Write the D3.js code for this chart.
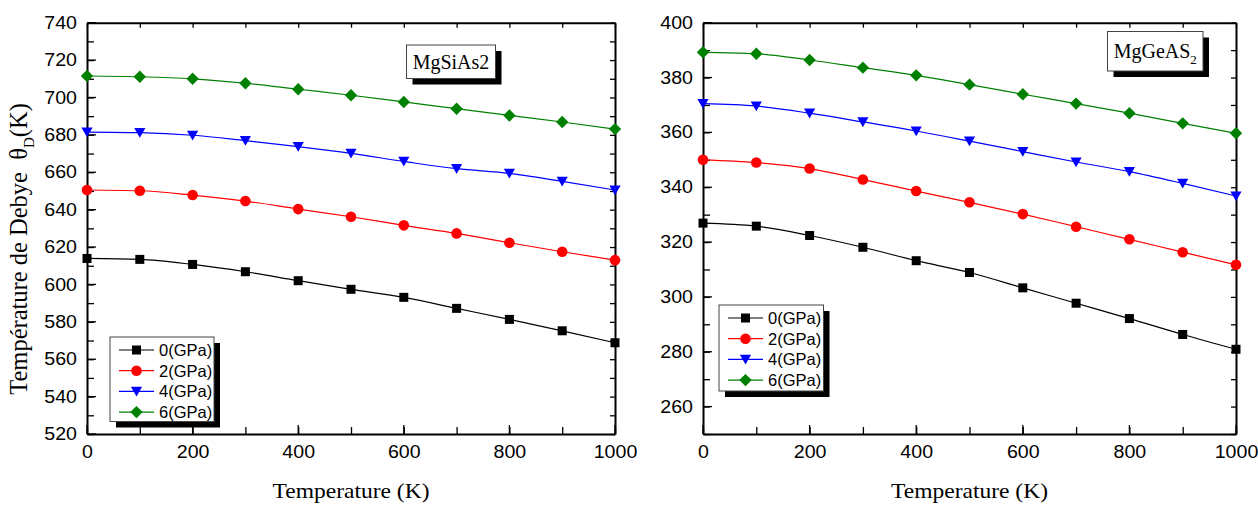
<!DOCTYPE html>
<html><head><meta charset="utf-8">
<script src="https://cdn.jsdelivr.net/npm/d3@7"></script>
<style>body{margin:0;background:#fff}svg{display:block}</style>
</head><body>
<svg id="c" width="1258" height="505"></svg>
<script>
const temps = [0,100,200,300,400,500,600,700,800,900,1000];
const seriesNames = ["0(GPa)","2(GPa)","4(GPa)","6(GPa)"];
const seriesColors = ["#000000","#ff0000","#0000ff","#008000"];
// MgSiAs2
const si_p0 = [613.9,613.4,610.7,606.8,602.0,597.4,593.1,587.2,581.3,575.2,568.8];
const si_p2 = [650.5,650.1,647.8,644.6,640.3,636.2,631.6,627.3,622.3,617.5,613.0];
const si_p4 = [681.5,681.2,679.8,676.9,673.7,670.1,665.8,661.9,659.4,655.1,650.5];
const si_p6 = [711.5,711.1,710.0,707.6,704.4,701.2,697.6,694.0,690.4,686.9,683.1];
// MgGeAS2
const ge_p0 = [326.9,325.8,322.4,318.1,313.2,308.9,303.3,297.7,292.1,286.3,280.9];
const ge_p2 = [350.0,349.0,346.8,342.8,338.6,334.5,330.2,325.6,321.0,316.3,311.7];
const ge_p4 = [370.5,369.6,367.0,363.8,360.5,356.8,353.0,349.2,345.7,341.4,336.8];
const ge_p6 = [389.2,388.7,386.4,383.6,380.8,377.4,373.9,370.5,367.0,363.3,359.7];
const xTicks = [0,200,400,600,800,1000];
const siTicks = [520,540,560,580,600,620,640,660,680,700,720,740];
const geTicks = [260,280,300,320,340,360,380,400];

const svg = d3.select("#c");
const markerTypes = ["square","circle","tri","diamond"];
function marker(g, type, x, y, color){
  if(type==="square") g.append("rect").attr("x",x-4.5).attr("y",y-4.5).attr("width",9).attr("height",9).attr("fill",color);
  else if(type==="circle") g.append("circle").attr("cx",x).attr("cy",y).attr("r",5.3).attr("fill",color);
  else if(type==="tri") g.append("path").attr("d",`M${x-5.6},${y-4.6}L${x+5.6},${y-4.6}L${x},${y+5.2}Z`).attr("fill",color);
  else g.append("path").attr("d",`M${x},${y-6.2}L${x+6.2},${y}L${x},${y+6.2}L${x-6.2},${y}Z`).attr("fill",color);
}
const serif = "'Liberation Serif', 'Times New Roman', serif";

function panel(opt){
  const {x0,x1,y0,y1,domain,ticks,minorStep,data,label,sub,labelBox,legend} = opt;
  const g = svg.append("g");
  const x = d3.scaleLinear().domain([0,1000]).range([x0,x1]);
  const y = d3.scaleLinear().domain(domain).range([y1,y0]);
  const minorX = d3.range(0,1001,100);
  const minorY = d3.range(domain[0],domain[1]+0.001,minorStep);
  const tickFont = "17.5px 'Liberation Sans', Arial, sans-serif";
  const ax = (gen, tr) => {
    const a = g.append("g").attr("transform",tr).call(gen);
    a.select(".domain").attr("stroke","#000").attr("stroke-width",2);
    a.selectAll("line").attr("stroke","#000").attr("stroke-width",1.3);
    a.selectAll("text").style("font",tickFont).attr("fill","#000")
      .attr("textLength",function(){const n=this.textContent.length; return n?n*10.9:null;})
      .attr("lengthAdjust","spacingAndGlyphs");
    return a;
  };
  ax(d3.axisBottom(x).tickValues(minorX).tickSize(-7).tickSizeOuter(0).tickPadding(12).tickFormat(d=>xTicks.includes(d)?d:""), `translate(0,${y1})`);
  g.append("g").attr("transform",`translate(0,${y1})`).selectAll("line").data(xTicks).join("line")
    .attr("x1",d=>x(d)).attr("x2",d=>x(d)).attr("y1",0).attr("y2",-9).attr("stroke","#000").attr("stroke-width",1.3);
  ax(d3.axisTop(x).tickValues(minorX).tickSize(-5).tickSizeOuter(0).tickFormat(""), `translate(0,${y0})`);
  ax(d3.axisLeft(y).tickValues(minorY).tickSize(-7).tickSizeOuter(0).tickPadding(10).tickFormat(d=>ticks.includes(d)?d:""), `translate(${x0},0)`);
  g.append("g").attr("transform",`translate(${x0},0)`).selectAll("line").data(ticks).join("line")
    .attr("x1",0).attr("x2",9).attr("y1",d=>y(d)).attr("y2",d=>y(d)).attr("stroke","#000").attr("stroke-width",1.3);
  ax(d3.axisRight(y).tickValues(minorY).tickSize(-5).tickSizeOuter(0).tickFormat(""), `translate(${x1},0)`);
  // series
  const line = d3.line().x((d,i)=>x(temps[i])).y(d=>y(d)).curve(d3.curveMonotoneX);
  data.forEach((s,k)=>{
    g.append("path").attr("d",line(s)).attr("fill","none").attr("stroke",seriesColors[k]).attr("stroke-width",1.2);
    s.forEach((v,i)=>marker(g, markerTypes[k], x(temps[i]), y(v), seriesColors[k]));
  });
  // label box
  const [bx,by,bw,bh] = labelBox;
  g.append("rect").attr("x",bx+6).attr("y",by+6).attr("width",bw).attr("height",bh).attr("fill","#000");
  g.append("rect").attr("x",bx).attr("y",by).attr("width",bw).attr("height",bh).attr("fill","#fff").attr("stroke","#444").attr("stroke-width",1);
  const t = g.append("text").attr("x",bx+bw/2).attr("y",by+bh/2+7).attr("text-anchor","middle")
    .style("font","20px " + serif).attr("fill","#000").text(label);
  if(sub) t.append("tspan").attr("dy",6).style("font-size","13px").text(sub);
  // legend
  const [lx,ly,lw,lh] = legend;
  g.append("rect").attr("x",lx+6).attr("y",ly+6).attr("width",lw).attr("height",lh).attr("fill","#000");
  g.append("rect").attr("x",lx).attr("y",ly).attr("width",lw).attr("height",lh).attr("fill","#fff").attr("stroke","#444").attr("stroke-width",1);
  seriesNames.forEach((n,k)=>{
    const ry = ly + 13 + k*20.7;
    g.append("line").attr("x1",lx+9).attr("x2",lx+44).attr("y1",ry).attr("y2",ry).attr("stroke",seriesColors[k]).attr("stroke-width",1.2);
    marker(g, markerTypes[k], lx+26.5, ry, seriesColors[k]);
    g.append("text").attr("x",lx+49).attr("y",ry+6).style("font","16.5px 'Liberation Sans', Arial, sans-serif").attr("fill","#000").text(n);
  });
  // x title
  g.append("text").attr("x",(x0+x1)/2).attr("y",498).attr("text-anchor","middle")
    .attr("textLength",157).attr("lengthAdjust","spacingAndGlyphs")
    .style("font","21.5px " + serif).attr("fill","#000").text("Temperature (K)");
}

panel({x0:87,x1:615,y0:22.7,y1:434,domain:[520,740],ticks:siTicks,minorStep:10,
  data:[si_p0,si_p2,si_p4,si_p6],label:"MgSiAs2",sub:null,labelBox:[406.5,45,89,33.5],legend:[110,337,104,84.5]});
panel({x0:703,x1:1236,y0:22.7,y1:434,domain:[250,400],ticks:geTicks,minorStep:10,
  data:[ge_p0,ge_p2,ge_p4,ge_p6],label:"MgGeAS",sub:"2",labelBox:[1107.5,31.5,95.5,39.5],legend:[719,305,104.5,86]});

// y title
const yt = svg.append("text").attr("transform","translate(27,249) rotate(-90)").attr("text-anchor","middle")
  .style("font","24.5px " + serif).attr("fill","#000");
yt.append("tspan").text("Température de Debye \u00a0θ");
yt.append("tspan").attr("dy",7).style("font-size","15px").text("D");
yt.append("tspan").attr("dy",-7).text("(K)");
</script>
</body></html>
